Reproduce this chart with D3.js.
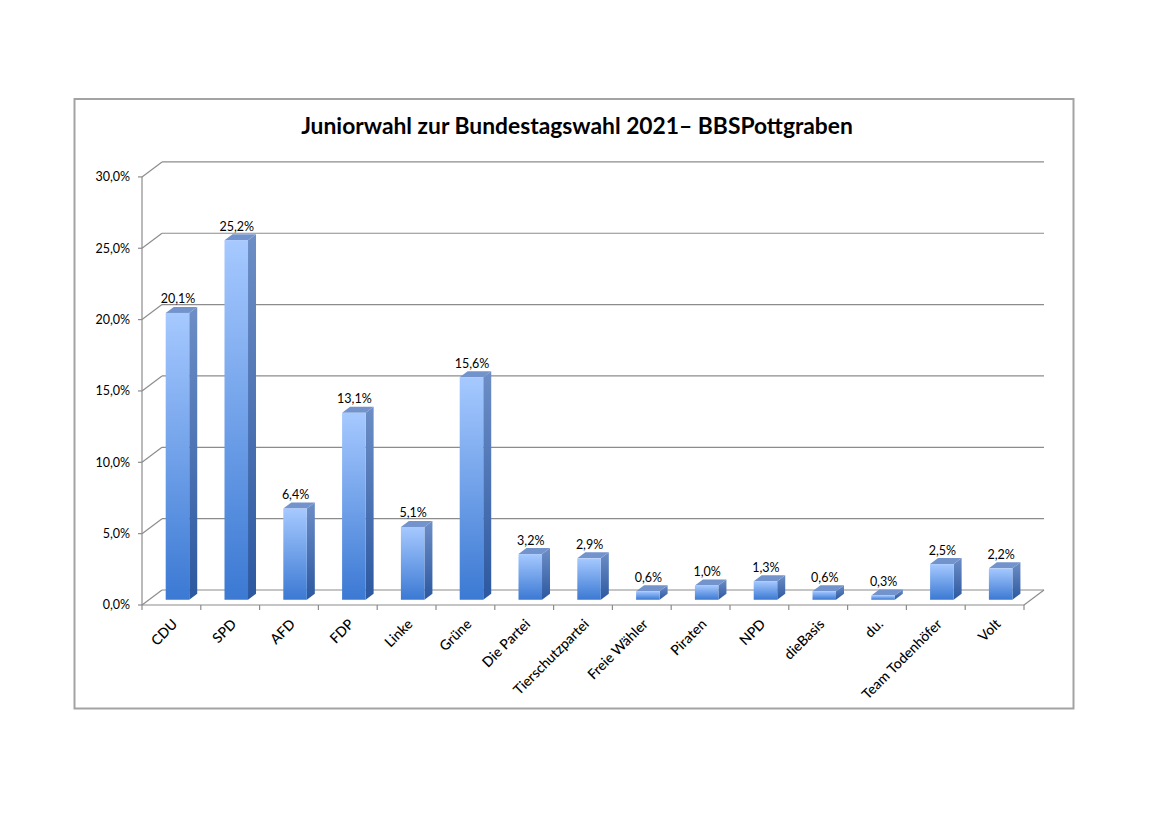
<!DOCTYPE html>
<html><head><meta charset="utf-8">
<script src="https://cdn.jsdelivr.net/npm/d3@7"></script>
<style>body{margin:0;background:#fff}svg{display:block}</style>
</head><body>
<svg id="c" width="1160" height="820"></svg>
<script>
const categories = ["CDU","SPD","AFD","FDP","Linke","Grüne","Die Partei","Tierschutzpartei","Freie Wähler","Piraten","NPD","dieBasis","du.","Team Todenhöfer","Volt"];
const values = [20.1,25.2,6.4,13.1,5.1,15.6,3.2,2.9,0.6,1.0,1.3,0.6,0.3,2.5,2.2];
const yTicks = [0,5,10,15,20,25,30];
const yTickLabels = ["0,0%","5,0%","10,0%","15,0%","20,0%","25,0%","30,0%"];
const titleText = "Juniorwahl zur Bundestagswahl 2021– BBSPottgraben";

const svg = d3.select("#c");
const FONT = "Lato, 'Open Sans', sans-serif";
const DX = 20, DY = -15;           // full depth offset
const F1 = 0.35, F2 = 0.75;         // bar front/back depth fractions

const x = d3.scaleBand().domain(categories).range([142, 1024]).padding(0);
const y = d3.scaleLinear().domain([0, 30]).range([605, 176.9]);
const bw = x.bandwidth();

// defs: gradients
const defs = svg.append("defs");
const gF = defs.append("linearGradient").attr("id","gFront").attr("x1",0).attr("y1",0).attr("x2",0).attr("y2",1);
gF.append("stop").attr("offset","0%").attr("stop-color","#a6c9ff");
gF.append("stop").attr("offset","100%").attr("stop-color","#3b79d3");
const gS = defs.append("linearGradient").attr("id","gSide").attr("x1",0).attr("y1",0).attr("x2",0).attr("y2",1);
gS.append("stop").attr("offset","0%").attr("stop-color","#6d8ec6");
gS.append("stop").attr("offset","100%").attr("stop-color","#2c58a0");

// border
svg.append("rect").attr("x",74.5).attr("y",99).attr("width",999).attr("height",609.5)
  .attr("fill","#fff").attr("stroke","#a3a3a3").attr("stroke-width",2);

// title
const title = svg.append("text").attr("x",577).attr("y",134).attr("text-anchor","middle")
  .attr("font-family",FONT).attr("font-weight","bold").attr("font-size",22).attr("fill","#000")
  .text(titleText);
const tl = title.node().getComputedTextLength();
if (tl > 0) title.attr("font-size", 22 * 552 / tl);

const grid = svg.append("g").attr("stroke","#8c8c8c").attr("stroke-width",1.2).attr("fill","none");
const x0 = x.range()[0], x1 = x.range()[1];
// back wall gridlines + left wall diagonals
yTicks.forEach(t => {
  const yy = y(t);
  grid.append("line").attr("x1",x0).attr("y1",yy).attr("x2",x0+DX).attr("y2",yy+DY);
  grid.append("line").attr("x1",x0+DX).attr("y1",yy+DY).attr("x2",x1+DX).attr("y2",yy+DY);
  grid.append("line").attr("x1",x0-4).attr("y1",yy).attr("x2",x0).attr("y2",yy);
});
// floor front edge and right edge
grid.append("line").attr("x1",x0).attr("y1",y(0)).attr("x2",x1).attr("y2",y(0));
grid.append("line").attr("x1",x1).attr("y1",y(0)).attr("x2",x1+DX).attr("y2",y(0)+DY);
// vertical axis
grid.append("line").attr("x1",x0).attr("y1",y(30)).attr("x2",x0).attr("y2",y(0));
// category ticks
d3.range(categories.length+1).forEach(i => {
  const xx = x0 + i*bw;
  grid.append("line").attr("x1",xx).attr("y1",y(0)).attr("x2",xx).attr("y2",y(0)+5);
});

// y tick labels
svg.append("g").selectAll("text").data(yTicks).join("text")
  .attr("x",130).attr("y",d=>y(d)).attr("dy","0.35em").attr("text-anchor","end")
  .attr("font-family",FONT).attr("font-size",12.5).attr("fill","#000")
  .text((d,i)=>yTickLabels[i]);

// bars
const bars = svg.append("g");
categories.forEach((c,i) => {
  const v = values[i];
  const l = x(c) + bw*0.284 + F1*DX;
  const w = bw*0.4;
  const b = y(0) + F1*DY;
  const top = y(v) + F1*DY;
  const ddx = (F2-F1)*DX, ddy = (F2-F1)*DY;
  const g = bars.append("g");
  // side
  g.append("path").attr("d",`M${l+w},${b}L${l+w+ddx},${b+ddy}L${l+w+ddx},${top+ddy}L${l+w},${top}Z`)
    .attr("fill","url(#gSide)");
  // top
  g.append("path").attr("d",`M${l},${top}L${l+ddx},${top+ddy}L${l+w+ddx},${top+ddy}L${l+w},${top}Z`)
    .attr("fill","#7393cc");
  // front
  g.append("rect").attr("x",l).attr("y",top).attr("width",w).attr("height",b-top).attr("fill","url(#gFront)");
  // label
  g.append("text").attr("x",l+w/2+0.5).attr("y",top+ddy-3.5).attr("text-anchor","middle")
    .attr("font-family",FONT).attr("font-size",12.5).attr("fill","#000")
    .text(d3.format(".1f")(v).replace(".",",") + "%");
});

// category labels
svg.append("g").selectAll("text").data(categories).join("text")
  .attr("transform",d=>`translate(${x(d)+bw/2+7},625) rotate(-45)`)
  .attr("text-anchor","end")
  .attr("font-family",FONT).attr("font-size",14).attr("font-weight",500).attr("fill","#000")
  .text(d=>d);
</script>
</body></html>
